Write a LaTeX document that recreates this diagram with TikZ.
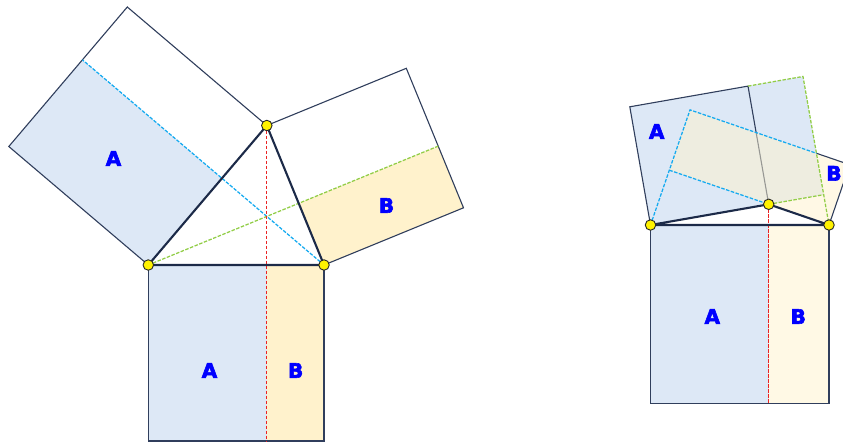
\documentclass[tikz,border=0pt]{standalone}
\usepackage{fontspec}
\newfontfamily\labfont{DejaVu Sans Bold}[FakeBold=3]
\usetikzlibrary{calc}
\definecolor{fillA}{RGB}{221,232,246}
\definecolor{fillB}{RGB}{255,242,204}
\definecolor{edge}{RGB}{48,62,92}
\definecolor{tri}{RGB}{28,42,72}
\definecolor{cyanD}{RGB}{20,170,240}
\definecolor{greenD}{RGB}{145,205,70}
\definecolor{redD}{RGB}{235,35,35}
\definecolor{labblue}{RGB}{0,0,255}
\tikzset{
  thinedge/.style={draw=edge, line width=1.1pt, line join=miter},
  triedge/.style={draw=tri, line width=2.1pt, line cap=round, line join=round},
  botedge/.style={draw=edge, line width=1.6pt},
  dcyan/.style={draw=cyanD, line width=1.25pt, dash pattern=on 3.5pt off 1.5pt},
  dgreen/.style={draw=greenD, line width=1.25pt, dash pattern=on 3.5pt off 1.5pt},
  dred/.style={draw=redD, line width=1.25pt, dash pattern=on 3.5pt off 1.5pt},
  dot/.style={circle, draw=black!85, fill=yellow, line width=0.9pt, minimum size=10.5pt, inner sep=0pt},
  lab/.style={text=labblue, inner sep=0pt, font=\labfont\fontsize{20}{20}\selectfont}
}
\begin{document}
\begin{tikzpicture}[x=1pt,y=-1pt]
\useasboundingbox (0,0) rectangle (843,442);
\clip (0,0) rectangle (843,442);
% ---------------- left figure ----------------
\coordinate (P1) at (148.3,265);
\coordinate (P2) at (324,265);
\coordinate (C) at (266.8,125.5);
\coordinate (A1) at ($(P1)!1!90:(C)$);
\coordinate (A2) at ($(C)!1!-90:(P1)$);
\coordinate (B1) at ($(C)!1!90:(P2)$);
\coordinate (B2) at ($(P2)!1!-90:(C)$);
\coordinate (D1) at ($(P1)!1!-90:(P2)$);
\coordinate (D2) at ($(P2)!1!90:(P1)$);
\coordinate (F) at ($(P1)!(P2)!(C)$);
\coordinate (Fn) at ($(A1)!(P2)!(A2)$);
\coordinate (G) at ($(C)!(P1)!(P2)$);
\coordinate (Gn) at ($(B1)!(P1)!(B2)$);
\coordinate (H) at ($(P1)!(C)!(P2)$);
\coordinate (Hd) at ($(D1)!(C)!(D2)$);
% fills
\fill[fillA] (P1) -- (F) -- (Fn) -- (A1) -- cycle;
\fill[fillB] (P2) -- (G) -- (Gn) -- (B2) -- cycle;
\fill[fillA] (P1) -- (H) -- (Hd) -- (D1) -- cycle;
\fill[fillB] (H) -- (P2) -- (D2) -- (Hd) -- cycle;
% square outlines
\draw[thinedge] (P1) -- (A1) -- (A2) -- (C);
\draw[thinedge] (C) -- (B1) -- (B2) -- (P2);
\draw[botedge] (P1) -- (D1) -- (D2) -- (P2);
% dashed lines
\draw[dcyan] (P2) -- (Fn);
\draw[dgreen] (P1) -- (Gn);
\draw[dred] (C) -- (Hd);
% triangle
\draw[triedge] (P1) -- (C) -- (P2) -- cycle;
\node[dot] (p1) at (P1) {};
\node[dot] (p2) at (P2) {};
\node[dot] (pc) at (C) {};
% labels
\node[lab] (la) at (113.5,158.5) {A};
\node[lab] (lb) at (386.5,205.5) {B};
\node[lab] (lba) at (209.5,370.5) {A};
\node[lab] (lbb) at (295.7,370.5) {B};
% ---------------- right figure ----------------
\coordinate (Q1) at (650.5,225);
\coordinate (Q2) at (829,225);
\coordinate (R) at (768.7,204.3);
\coordinate (SA1) at ($(Q1)!1!90:(R)$);
\coordinate (SA2) at ($(R)!1!-90:(Q1)$);
\coordinate (SB1) at ($(R)!1!90:(Q2)$);
\coordinate (SB2) at ($(Q2)!1!-90:(R)$);
\coordinate (E1) at ($(Q1)!1!-90:(Q2)$);
\coordinate (E2) at ($(Q2)!1!90:(Q1)$);
\coordinate (Fp) at ($(Q1)!(Q2)!(R)$);
\coordinate (Fpn) at ($(SA1)!(Q2)!(SA2)$);
\coordinate (Gp) at ($(R)!(Q1)!(Q2)$);
\coordinate (Gpn) at ($(SB1)!(Q1)!(SB2)$);
\coordinate (Hp) at ($(Q1)!(R)!(Q2)$);
\coordinate (Hpd) at ($(E1)!(R)!(E2)$);
\coordinate (X) at (intersection of SB1--SB2 and Fpn--Fp);
% bottom square fills
\fill[fillA] (Q1) -- (Hp) -- (Hpd) -- (E1) -- cycle;
\fill[fillB!50] (Hp) -- (Q2) -- (E2) -- (Hpd) -- cycle;
% rectangle A (opaque)
\fill[fillA] (Q1) -- (Fp) -- (Fpn) -- (SA1) -- cycle;
% square A outline
\draw[thinedge] (Q1) -- (SA1) -- (SA2) -- (R);
% rectangle B (half transparent)
\fill[fillB, fill opacity=0.5] (Q2) -- (Gp) -- (Gpn) -- (SB2) -- cycle;
% visible part of square B outline
\draw[thinedge] (X) -- (SB2) -- (Q2);
% dashed lines
\draw[dgreen] (SA2) -- (Fpn) -- (Fp) -- (Q2);
\draw[dgreen] (R) -- (Fp);
\draw[dcyan] (Q1) -- (Gp) -- (Gpn) -- (X);
\draw[dcyan] (Gp) -- (R);
\draw[dred] (R) -- (Hpd);
% bottom square outline
\draw[botedge] (Q1) -- (E1) -- (E2) -- (Q2);
% triangle
\draw[triedge] (Q1) -- (R) -- (Q2) -- cycle;
\node[dot] (q1) at (Q1) {};
\node[dot] (q2) at (Q2) {};
\node[dot] (qr) at (R) {};
% labels
\node[lab] (ra) at (656.7,131.5) {A};
\node[lab] (rb) at (834,173.3) {B};
\node[lab] (rba) at (712.3,316.5) {A};
\node[lab] (rbb) at (798.3,316.5) {B};
\end{tikzpicture}
\end{document}
